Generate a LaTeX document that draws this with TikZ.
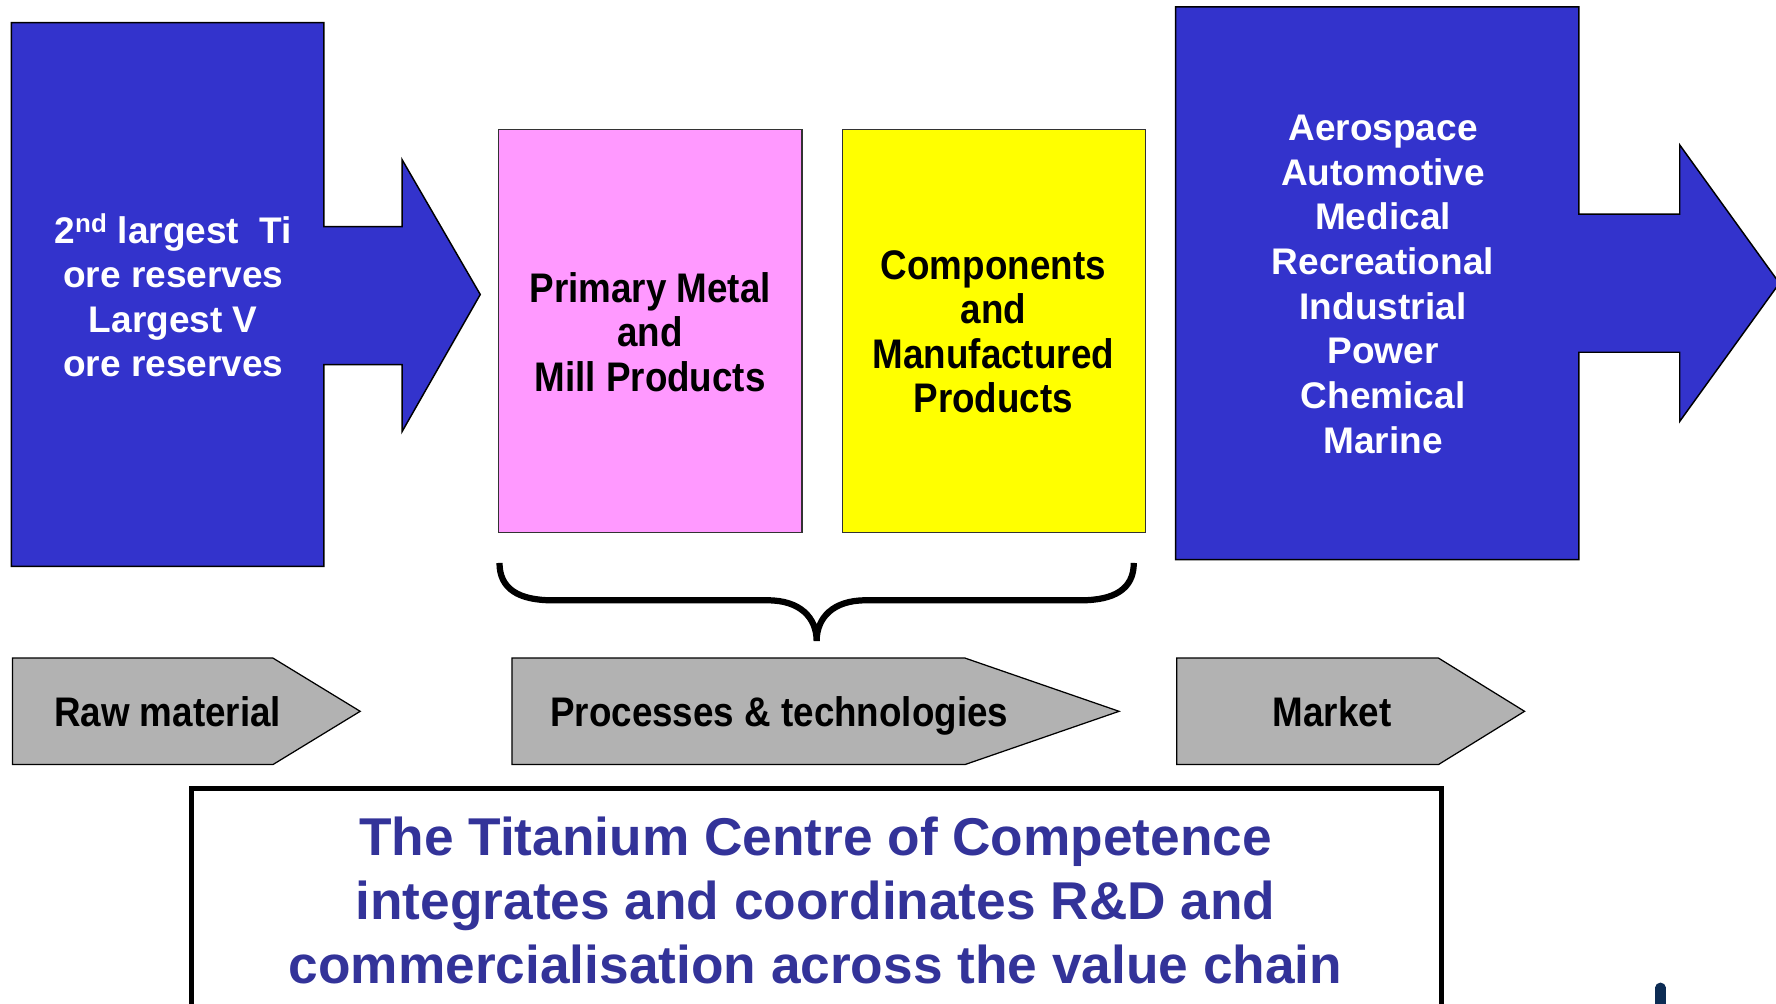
\documentclass[tikz,border=0pt]{standalone}
\usepackage{fontspec}
\setmainfont{Liberation Sans}
\newfontfamily\narrowfont[FakeStretch=0.89]{Liberation Sans}
\definecolor{tiblue}{HTML}{3333CC}
\definecolor{tipink}{HTML}{FF99FF}
\definecolor{tiyellow}{HTML}{FFFF00}
\definecolor{tigray}{HTML}{B2B2B2}
\definecolor{titext}{HTML}{333399}
\definecolor{tinavy}{HTML}{0D2C54}
\tikzset{
    bluebox/.style={fill=tiblue, draw=black, line width=1.3pt},
    stagebox/.style={draw=black!80, line width=1.1pt},
    chevron/.style={fill=tigray, draw=black, line width=1.1pt},
    whitetext/.style={text=white, align=center, font=\bfseries\fontsize{32.7}{39.4}\selectfont},
    blacktext/.style={align=center, font=\narrowfont\bfseries\fontsize{36.5}{39.2}\selectfont},
    bottomtext/.style={text=titext, align=center, font=\bfseries\fontsize{47}{56.5}\selectfont}
}
\begin{document}
\begin{tikzpicture}[x=1pt, y=-1pt]
    \useasboundingbox (0,0) rectangle (1568,886);
    \clip (0,0) rectangle (1568,886);

    % raw material
    \filldraw[bluebox] (10,20) -- (286,20) -- (286,200) -- (355,200) -- (355,141) -- (424,260)
        -- (355,381) -- (355,322) -- (286,322) -- (286,500) -- (10,500) -- cycle;
    \node[whitetext] (ore) at (153,261) {2\textsuperscript{nd} largest\ \ Ti\\ore reserves\\Largest V\\ore reserves};

    % processing
    \filldraw[stagebox, fill=tipink] (440,114) rectangle (708,470);
    \node[blacktext] (mill) at (574,293) {Primary Metal\\and\\Mill Products};
    \filldraw[stagebox, fill=tiyellow] (744,114) rectangle (1011,470);
    \node[blacktext] (comp) at (877,293) {Components\\and\\Manufactured\\Products};

    % market
    \filldraw[bluebox] (1038,6) -- (1394,6) -- (1394,189) -- (1483,189) -- (1483,128) -- (1571,250)
        -- (1483,372) -- (1483,311) -- (1394,311) -- (1394,494) -- (1038,494) -- cycle;
    \node[whitetext] (sectors) at (1221,251) {Aerospace\\Automotive\\Medical\\Recreational\\Industrial\\Power\\Chemical\\Marine};

    % brace
    \draw[line width=5.5pt] (441,497) .. controls (441,520) and (458,530) .. (488,530) -- (678,530)
        .. controls (706,530) and (721,545) .. (721,566)
        .. controls (721,545) and (736,530) .. (764,530) -- (954,530)
        .. controls (984,530) and (1001,520) .. (1001,497);

\foreach \n/\l/\r/\t/\c/\txt in {raw/11/241/318/148/Raw material,proc/452/852/988/688/Processes \& technologies,mkt/1039/1270/1346/1176/Market}{
    \filldraw[chevron] (\l,581) -- (\r,581) -- (\t,628) -- (\r,675) -- (\l,675) -- cycle;
    \node[blacktext, anchor=base] (\n) at (\c,641) {\txt};
}

    \draw[line width=4.4pt] (169,696) rectangle (1273,910);
    \node[bottomtext] (tcoc) at (720,795) {The Titanium Centre of Competence\\integrates and coordinates R\&D and\\commercialisation across the value chain};

    \draw[tinavy, line width=9pt, line cap=round] (1466,872) -- (1466,895);
\end{tikzpicture}
\end{document}
